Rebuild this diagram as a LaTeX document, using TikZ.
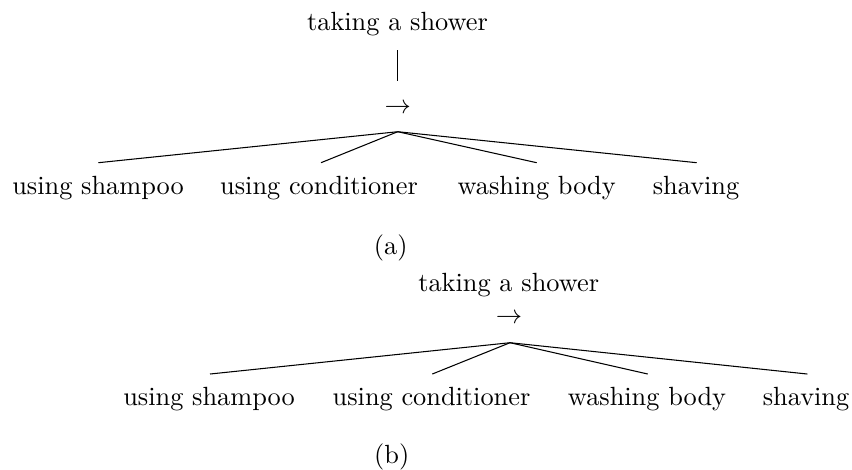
\documentclass[tikz,border=0pt]{standalone}
\begin{document}
\begin{tikzpicture}[x=0.38pt,y=-0.38pt,
  lbl/.style={anchor=base,inner sep=0pt},
  edge/.style={line width=0.4pt}]
\useasboundingbox (0,0) rectangle (852,469);

% ---- tree (a)
\node[lbl] (ra) at (397.5,30.7) {taking a shower};
\coordinate (vtop) at (397.3,50);
\coordinate (vbot) at (397.3,80.7);
\draw[edge] (vtop) -- (vbot);
\node[lbl] (arra) at (397.7,113.3) {$\rightarrow$};
\coordinate (apa) at (397.7,131.7);
\node[lbl] (a1) at (98,194) {using shampoo};
\node[lbl] (a2) at (319,194) {using conditioner};
\node[lbl] (a3) at (536.7,194) {washing body};
\node[lbl] (a4) at (696,194) {shaving};
\coordinate (ea1) at (98.3,162.7);
\coordinate (ea2) at (321,162.7);
\coordinate (ea3) at (536.7,162.7);
\coordinate (ea4) at (696.7,162.7);
\foreach \e in {ea1,ea2,ea3,ea4} \draw[edge] (apa) -- (\e);
\node[lbl] (capa) at (390.8,254.5) {(a)};

% ---- tree (b)
\node[lbl] (rb) at (508.7,291.7) {taking a shower};
\node[lbl] (arrb) at (509,323.3) {$\rightarrow$};
\coordinate (apb) at (510,342.7);
\node[lbl] (b1) at (209,405.5) {using shampoo};
\node[lbl] (b2) at (431.5,405.5) {using conditioner};
\node[lbl] (b3) at (647,405.5) {washing body};
\node[lbl] (b4) at (806,405.5) {shaving};
\coordinate (eb1) at (210,374);
\coordinate (eb2) at (432.3,374);
\coordinate (eb3) at (647.7,374);
\coordinate (eb4) at (807.3,374);
\foreach \e in {eb1,eb2,eb3,eb4} \draw[edge] (apb) -- (\e);
\node[lbl] (capb) at (391.7,463) {(b)};
\end{tikzpicture}
\end{document}
